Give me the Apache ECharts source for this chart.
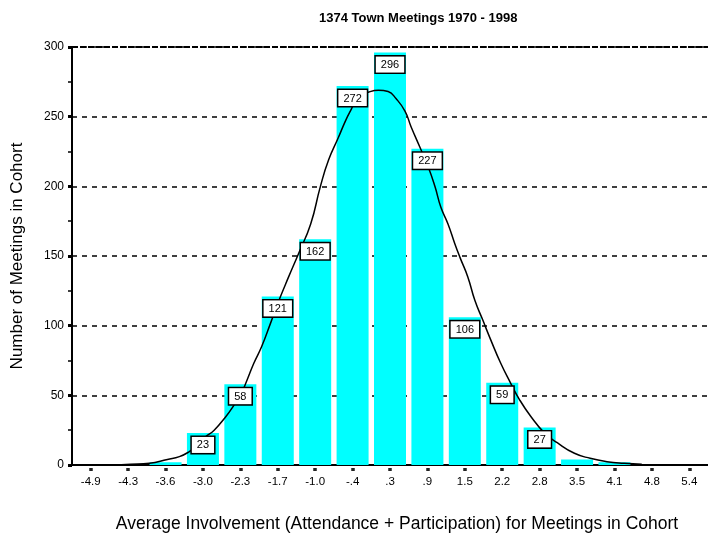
<!DOCTYPE html>
<html>
<head>
<meta charset="utf-8">
<script src="https://cdn.jsdelivr.net/npm/echarts@6/dist/echarts.min.js"></script>
<style>html,body{margin:0;padding:0;background:#fff;}#c{width:708px;height:542px;}</style>
</head>
<body>
<div id="c"></div>
<script>
var categories = ['-4.9','-4.3','-3.6','-3.0','-2.3','-1.7','-1.0','-.4','.3','.9','1.5','2.2','2.8','3.5','4.1','4.8','5.4'];
var counts = [0, 0, 2, 23, 58, 121, 162, 272, 296, 227, 106, 59, 27, 4, 2, 0, 0];
var boxLabels = ['', '', '', '23', '58', '121', '162', '272', '296', '227', '106', '59', '27', '', '', '', ''];
// fitted curve: position in category units, height in meetings
var curveX = [0.58, 1.06, 1.57, 2.05, 2.37, 2.63, 2.90, 3.06, 3.30, 3.62, 3.83, 4.02, 4.18, 4.36, 4.57, 4.81, 5.03, 5.29, 5.56, 5.88, 6.14, 6.36, 6.62, 6.81, 6.94, 7.15, 7.47, 7.69, 7.95, 8.16, 8.40, 8.56, 8.80, 9.02, 9.20, 9.36, 9.55, 9.73, 9.87, 10.08, 10.27, 10.48, 10.69, 10.96, 11.22, 11.46, 11.76, 12.13, 12.47, 12.93, 13.35, 13.80, 14.26, 14.73];
var curveY = [0, 0.5, 1.2, 4, 6, 9.5, 15, 20, 25, 35, 43, 51, 61, 73, 85, 102, 118, 135, 152, 173, 200, 219, 235, 247, 254, 264, 268, 269, 268, 263, 254, 243, 228, 214, 200, 185, 173, 159, 149, 135, 118, 104, 90, 73, 59, 47, 35, 23, 16, 8.4, 4.8, 2.4, 1.2, 0.5];
var titleText = '1374 Town Meetings 1970 - 1998';
var xName = 'Average Involvement (Attendance + Participation) for Meetings in Cohort';
var yName = 'Number of Meetings in Cohort';

var FONT = 'Liberation Sans, Arial, Helvetica, sans-serif';
var curveData = curveX.map(function (x, i) { return [x, curveY[i]]; });
var labelData = counts.map(function (v, i) {
  return { value: v, label: { show: boxLabels[i] !== '' } };
});

var chart = echarts.init(document.getElementById('c'), null, { renderer: 'canvas' });
chart.setOption({
  animation: false,
  backgroundColor: '#ffffff',
  textStyle: { fontFamily: FONT },
  title: {
    text: titleText,
    left: 314, top: 7,
    textStyle: { fontFamily: FONT, fontSize: 13, fontWeight: 'bold', color: '#000' }
  },
  grid: { left: 72, top: 47, width: 639, height: 418, containLabel: false },
  xAxis: [
    {
      type: 'category', data: categories, position: 'bottom',
      axisLine: { show: true, onZero: false, lineStyle: { color: '#000', width: 2 } },
      axisTick: { show: false },
      axisLabel: { color: '#000', fontSize: 11.5, fontFamily: FONT, margin: 11 },
      splitLine: { show: false },
      name: xName, nameLocation: 'middle', nameGap: 50,
      nameTextStyle: { color: '#000', fontSize: 17.5, fontFamily: FONT, padding: [0, 0, 0, 14] }
    },
    {
      type: 'category', data: categories, position: 'bottom', offset: 3,
      axisLine: { show: false, onZero: false },
      axisTick: { show: true, alignWithLabel: true, length: 3, lineStyle: { color: '#222', width: 3.5 } },
      axisLabel: { show: false },
      splitLine: { show: false }
    },
    {
      type: 'value', min: -0.5, max: 16.5, show: false
    }
  ],
  yAxis: {
    type: 'value', min: 0, max: 300, interval: 50,
    axisLine: { show: true, onZero: false, lineStyle: { color: '#000', width: 2 } },
    axisTick: { show: true, length: 4, lineStyle: { color: '#000', width: 3 } },
    minorTick: { show: true, splitNumber: 2, length: 4, lineStyle: { color: '#000', width: 1.5 } },
    axisLabel: { color: '#000', fontSize: 12, fontFamily: FONT, margin: 8 },
    splitLine: { show: true, lineStyle: { color: '#000', width: 1.5, type: [5, 5] } },
    name: yName, nameLocation: 'middle', nameGap: 46,
    nameTextStyle: { color: '#000', fontSize: 17, fontFamily: FONT }
  },
  series: [
    {
      type: 'bar', xAxisIndex: 0, data: counts, barWidth: 32, barGap: '-100%', z: 2,
      itemStyle: { color: '#00ffff' },
      label: { show: false },
      markLine: {
        silent: true, symbol: 'none', label: { show: false },
        lineStyle: { color: '#000', width: 2, type: [6, 2] },
        data: [{ yAxis: 300 }]
      }
    },
    {
      type: 'line', xAxisIndex: 2, data: curveData, smooth: true, showSymbol: false, symbol: 'none', z: 3,
      lineStyle: { color: '#000', width: 1.5 }
    },
    {
      type: 'bar', xAxisIndex: 0, data: labelData, barWidth: 32, barGap: '-100%', z: 4,
      itemStyle: { color: 'rgba(0,0,0,0)' },
      label: {
        position: 'insideTop', distance: 4,
        formatter: function (p) { return boxLabels[p.dataIndex]; },
        color: '#000', fontSize: 11, fontFamily: FONT,
        backgroundColor: '#fff', borderColor: '#000', borderWidth: 1.5,
        padding: [3, 5, 2, 5]
      }
    }
  ]
});
</script>
</body>
</html>
